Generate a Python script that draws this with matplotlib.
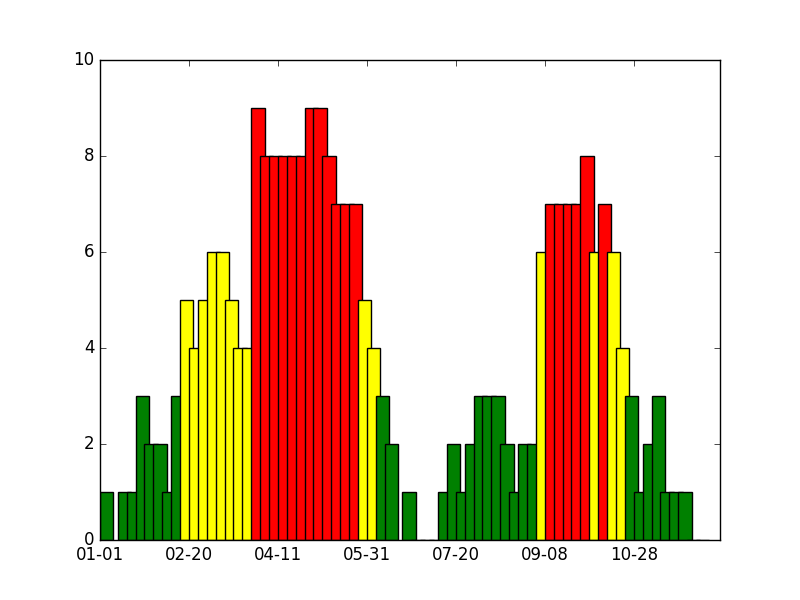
import matplotlib
matplotlib.use('Agg')
import matplotlib.pyplot as plt

plt.style.use('classic')

# day offsets (from 01-01) of each bar and its count
days = [0, 10, 15, 20, 25, 30, 35, 40, 45, 50, 55, 60, 65, 70, 75, 80,
        85, 90, 95, 100, 105, 110, 115, 120, 125, 130, 135, 140, 145, 150,
        155, 160, 170, 175, 180, 185, 190, 195, 200, 205, 210, 215, 220, 225,
        230, 235, 240, 245, 250, 255, 260, 265, 270, 275, 280, 285, 290, 295,
        300, 305, 310, 315, 320, 325, 330, 335]
counts = [1, 1, 1, 3, 2, 2, 1, 3, 5, 4, 5, 6, 6, 5, 4, 4,
          9, 8, 8, 8, 8, 8, 9, 9, 8, 7, 7, 7, 5, 4,
          3, 2, 1, 0, 0, 0, 1, 2, 1, 2, 3, 3, 3, 2,
          1, 2, 2, 6, 7, 7, 7, 7, 8, 6, 7, 6, 4, 3,
          1, 2, 3, 1, 1, 1, 0, 0]
tick_days = [0, 50, 100, 150, 200, 250, 300]
tick_labels = ['01-01', '02-20', '04-11', '05-31', '07-20', '09-08', '10-28']


def level_color(v):
    if v >= 7:
        return 'red'
    if v >= 4:
        return 'yellow'
    return 'green'


fig, ax = plt.subplots(figsize=(8, 6), dpi=100)
ax.bar(days, counts, width=7.5, align='edge',
       color=[level_color(c) for c in counts], edgecolor='black')
ax.set_xlim(0, 348.5)
ax.set_ylim(0, 10)
ax.set_xticks(tick_days)
ax.set_xticklabels(tick_labels)
fig.savefig('out.png', dpi=100)
